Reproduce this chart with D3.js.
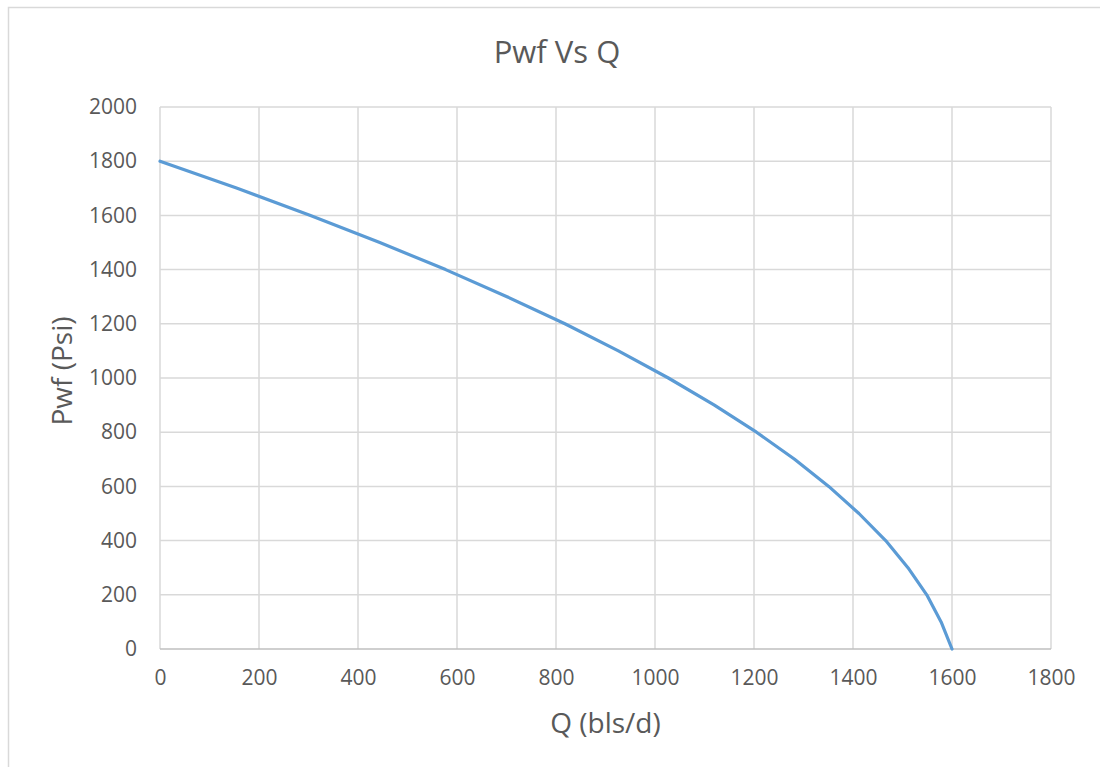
<!DOCTYPE html>
<html>
<head>
<meta charset="utf-8">
<script src="https://cdn.jsdelivr.net/npm/d3@7"></script>
<style>
  html, body { margin: 0; padding: 0; background: #fff; }
  svg { display: block; }
  text { font-family: "Open Sans", "Noto Sans", sans-serif; fill: #595959; }
</style>
</head>
<body>
<svg id="chart" width="1100" height="767"></svg>
<script>
// Data (Q in bls/d, Pwf in psi)
const qValues   = [0, 156, 304, 444, 577, 701, 818, 926, 1027, 1120, 1205, 1282, 1351, 1412, 1466, 1511, 1549, 1578, 1600];
const pwfValues = [1800, 1700, 1600, 1500, 1400, 1300, 1200, 1100, 1000, 900, 800, 700, 600, 500, 400, 300, 200, 100, 0];
const xTicks = [0, 200, 400, 600, 800, 1000, 1200, 1400, 1600, 1800];
const yTicks = [0, 200, 400, 600, 800, 1000, 1200, 1400, 1600, 1800, 2000];
const titleText = "Pwf Vs Q";
const xTitle = "Q (bls/d)";
const yTitle = "Pwf (Psi)";

const svg = d3.select("#chart");
const plot = { left: 160, right: 1051, top: 107, bottom: 649 };

// chart border
svg.append("rect")
  .attr("x", 8.5).attr("y", 7.5)
  .attr("width", 1110).attr("height", 780)
  .attr("fill", "#fff").attr("stroke", "#d9d9d9").attr("stroke-width", 1.5);

const x = d3.scaleLinear().domain([0, 1800]).range([plot.left, plot.right]);
const y = d3.scaleLinear().domain([0, 2000]).range([plot.bottom, plot.top]);

// gridlines
const grid = svg.append("g");
grid.selectAll("line.h").data(yTicks.filter(d => d !== 0)).enter().append("line")
  .attr("x1", plot.left).attr("x2", plot.right)
  .attr("y1", d => y(d)).attr("y2", d => y(d))
  .attr("stroke", "#d9d9d9").attr("stroke-width", 1.5);
grid.selectAll("line.v").data(xTicks).enter().append("line")
  .attr("y1", plot.top).attr("y2", plot.bottom)
  .attr("x1", d => x(d)).attr("x2", d => x(d))
  .attr("stroke", "#d9d9d9").attr("stroke-width", 1.5);

// x axis line
svg.append("line")
  .attr("x1", plot.left).attr("x2", plot.right)
  .attr("y1", y(0)).attr("y2", y(0))
  .attr("stroke", "#bfbfbf").attr("stroke-width", 1.5);

const fmt = d3.format("d");

// x axis labels
const xAxis = d3.axisBottom(x).tickValues(xTicks).tickFormat(fmt).tickSize(0).tickPadding(21);
const gx = svg.append("g").attr("transform", `translate(0,${y(0)})`).call(xAxis);
gx.select(".domain").remove();
gx.selectAll("text").style("font-size", "21px").style("fill", "#595959")
  .style("font-family", '"Open Sans", sans-serif');

// y axis labels
const yAxis = d3.axisLeft(y).tickValues(yTicks).tickFormat(fmt).tickSize(0).tickPadding(23);
const gy = svg.append("g").attr("transform", `translate(${plot.left},0)`).call(yAxis);
gy.select(".domain").remove();
gy.selectAll("text").style("font-size", "21px").style("fill", "#595959")
  .style("font-family", '"Open Sans", sans-serif');

// line
const line = d3.line().x((d, i) => x(qValues[i])).y((d, i) => y(pwfValues[i]));
svg.append("path")
  .datum(qValues)
  .attr("d", line)
  .attr("fill", "none")
  .attr("stroke", "#5b9bd5")
  .attr("stroke-width", 3.2)
  .attr("stroke-linejoin", "round")
  .attr("stroke-linecap", "round");

// titles
svg.append("text")
  .attr("x", 557).attr("y", 63)
  .attr("text-anchor", "middle")
  .style("font-size", "31px")
  .text(titleText);

svg.append("text")
  .attr("x", (plot.left + plot.right) / 2).attr("y", 733)
  .attr("text-anchor", "middle")
  .style("font-size", "28px")
  .text(xTitle);

svg.append("text")
  .attr("transform", `translate(72,${(plot.top + plot.bottom) / 2 - 7}) rotate(-90)`)
  .attr("text-anchor", "middle")
  .style("font-size", "28px")
  .text(yTitle);
</script>
</body>
</html>
